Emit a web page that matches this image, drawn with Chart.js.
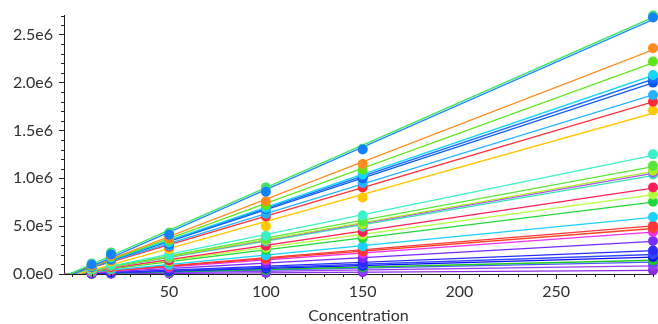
<!DOCTYPE html>
<html>
<head>
<meta charset="utf-8">
<script src="https://cdn.jsdelivr.net/npm/chart.js@4.4.1/dist/chart.umd.min.js"></script>
<style>
  html, body { margin: 0; padding: 0; background: #fff; }
  canvas { display: block; }
</style>
</head>
<body>
<canvas id="chart" width="658" height="324"></canvas>
<script>
// --- DATA ---
// concentrations measured for every calibration series
const concentrations = [10, 20, 50, 100, 150, 300];

// responses, in thousands, one row per series (same order as seriesColors)
// earlier rows are painted on top of later ones
const seriesResponses = [
    [100, 205, 410, 860, 1300, 2680],
    [110, 225, 430, 905, 1310, 2700],
    [90, 190, 370, 760, 1150, 2360],
    [85, 180, 350, 720, 1090, 2220],
    [80, 170, 330, 690, 1040, 2080],
    [78, 165, 320, 700, 1010, 2040],
    [75, 160, 315, 680, 1000, 2000],
    [72, 150, 295, 630, 950, 1870],
    [68, 145, 285, 600, 905, 1800],
    [62, 130, 260, 500, 800, 1710],
    [48, 100, 195, 400, 610, 1250],
    [44, 92, 180, 370, 550, 1130],
    [42, 88, 172, 355, 520, 1080],
    [41, 86, 170, 350, 515, 1060],
    [40, 84, 166, 340, 495, 1040],
    [35, 72, 142, 295, 440, 905],
    [33, 68, 134, 275, 410, 830],
    [30, 62, 122, 250, 375, 755],
    [23, 48, 95, 195, 290, 595],
    [20, 42, 84, 170, 250, 505],
    [19, 40, 80, 160, 235, 478],
    [17, 36, 70, 145, 215, 440],
    [13, 28, 55, 112, 165, 345],
    [9, 20, 39, 80, 120, 246],
    [8, 17, 33, 68, 100, 205],
    [7, 14, 28, 58, 86, 178],
    [5, 11, 22, 46, 70, 145],
    [5, 10, 20, 40, 60, 125],
    [3, 6, 13, 27, 40, 85],
    [1.5, 3, 6, 12, 18, 38]
];

const seriesColors = [
    '#1482ff', '#3fe36a', '#ff8a1e', '#5ee61a', '#16d6f6', '#1a6cff',
    '#0a58f0', '#22b2ff', '#ff2a36', '#ffc800', '#3cf0c8', '#58e83a',
    '#a8f020', '#b24cff', '#30e8b0', '#ff1e5a', '#b4ff3c', '#22d83a',
    '#1ad2ff', '#ff3434', '#ff4020', '#ee2ef0', '#7a2cff', '#2a2aff',
    '#3048ff', '#0a0aff', '#1ec81e', '#4a5aff', '#9a3cff', '#8a2be2'
];

const xMajorTicks = [50, 100, 150, 200, 250];
const yMajorTicks = [0, 500000, 1000000, 1500000, 2000000, 2500000];

const RESPONSE_UNIT = 1000;
const X_MIN = -4.3, X_MAX = 300;
const Y_MIN = 0, Y_MAX = 2700000;
const AXIS_COLOR = '#1e1e1e';
const TEXT_COLOR = '#303030';
const FONT = { family: 'Lato, "Open Sans", sans-serif', size: 16 };

// minor tick positions (every 10 on x, every 1e5 on y)
const xMinorTicks = [];
for (let v = 0; v <= X_MAX; v += 10) if (!xMajorTicks.includes(v)) xMinorTicks.push(v);
const yMinorTicks = [];
for (let v = 0; v <= Y_MAX; v += 100000) if (!yMajorTicks.includes(v)) yMinorTicks.push(v);

// --- LEAST SQUARES FIT FOR EACH SERIES ---
function fitLine(xs, ys) {
    const n = xs.length;
    const mx = xs.reduce((a, b) => a + b, 0) / n;
    const my = ys.reduce((a, b) => a + b, 0) / n;
    let sxy = 0, sxx = 0;
    for (let i = 0; i < n; i++) {
        sxy += (xs[i] - mx) * (ys[i] - my);
        sxx += (xs[i] - mx) * (xs[i] - mx);
    }
    const slope = sxy / sxx;
    return { slope, intercept: my - slope * mx };
}

const datasets = [];
seriesResponses.forEach((row, i) => {
    const ys = row.map(v => v * RESPONSE_UNIT);
    const fit = fitLine(concentrations, ys);
    datasets.push({
        data: [X_MIN, X_MAX].map(x => ({ x, y: fit.intercept + fit.slope * x })),
        showLine: true,
        borderColor: seriesColors[i],
        borderWidth: 1.3,
        pointRadius: 0,
        order: 2
    });
    datasets.push({
        data: concentrations.map((c, j) => ({ x: c, y: ys[j] })),
        backgroundColor: seriesColors[i],
        borderWidth: 0,
        pointRadius: 5,
        clip: false,
        order: 1
    });
});

// --- MINOR TICKS ---
const minorTicks = {
    id: 'minorTicks',
    afterDraw(chart) {
        const { ctx, scales: { x, y } } = chart;
        ctx.save();
        ctx.strokeStyle = AXIS_COLOR;
        ctx.lineWidth = 1;
        ctx.beginPath();
        xMinorTicks.forEach(v => {
            const px = Math.round(x.getPixelForValue(v)) + 0.5;
            ctx.moveTo(px, x.top);
            ctx.lineTo(px, x.top + 3);
        });
        yMinorTicks.forEach(v => {
            const py = Math.round(y.getPixelForValue(v)) + 0.5;
            ctx.moveTo(y.right, py);
            ctx.lineTo(y.right - 3, py);
        });
        ctx.stroke();
        ctx.restore();
    }
};

new Chart(document.getElementById('chart').getContext('2d'), {
    type: 'scatter',
    data: { datasets },
    options: {
        responsive: false,
        animation: false,
        devicePixelRatio: 1,
        layout: { padding: { top: 10, right: 2, left: 0, bottom: 0 } },
        plugins: { legend: { display: false }, tooltip: { enabled: false } },
        scales: {
            x: {
                type: 'linear',
                min: X_MIN,
                max: X_MAX,
                afterBuildTicks: s => { s.ticks = xMajorTicks.map(value => ({ value })); },
                afterFit: s => { s.height = 50; },
                grid: { drawOnChartArea: false, drawTicks: true, tickLength: 5, color: AXIS_COLOR },
                border: { display: true, color: AXIS_COLOR, width: 1 },
                ticks: { color: TEXT_COLOR, font: FONT, padding: 3, maxRotation: 0, autoSkip: false },
                title: {
                    display: true,
                    text: 'Concentration',
                    color: TEXT_COLOR,
                    font: { ...FONT, lineHeight: 1.0 },
                    padding: { top: 0, bottom: 0 }
                }
            },
            y: {
                type: 'linear',
                min: Y_MIN,
                max: Y_MAX,
                afterBuildTicks: s => { s.ticks = yMajorTicks.map(value => ({ value })); },
                afterFit: s => { s.width = 64; },
                grid: { drawOnChartArea: false, drawTicks: true, tickLength: 5, color: AXIS_COLOR },
                border: { display: true, color: AXIS_COLOR, width: 1 },
                ticks: {
                    color: TEXT_COLOR,
                    font: FONT,
                    padding: 6,
                    autoSkip: false,
                    callback: v => v.toExponential(1).replace('+', '')
                }
            }
        }
    },
    plugins: [minorTicks]
});
</script>
</body>
</html>
